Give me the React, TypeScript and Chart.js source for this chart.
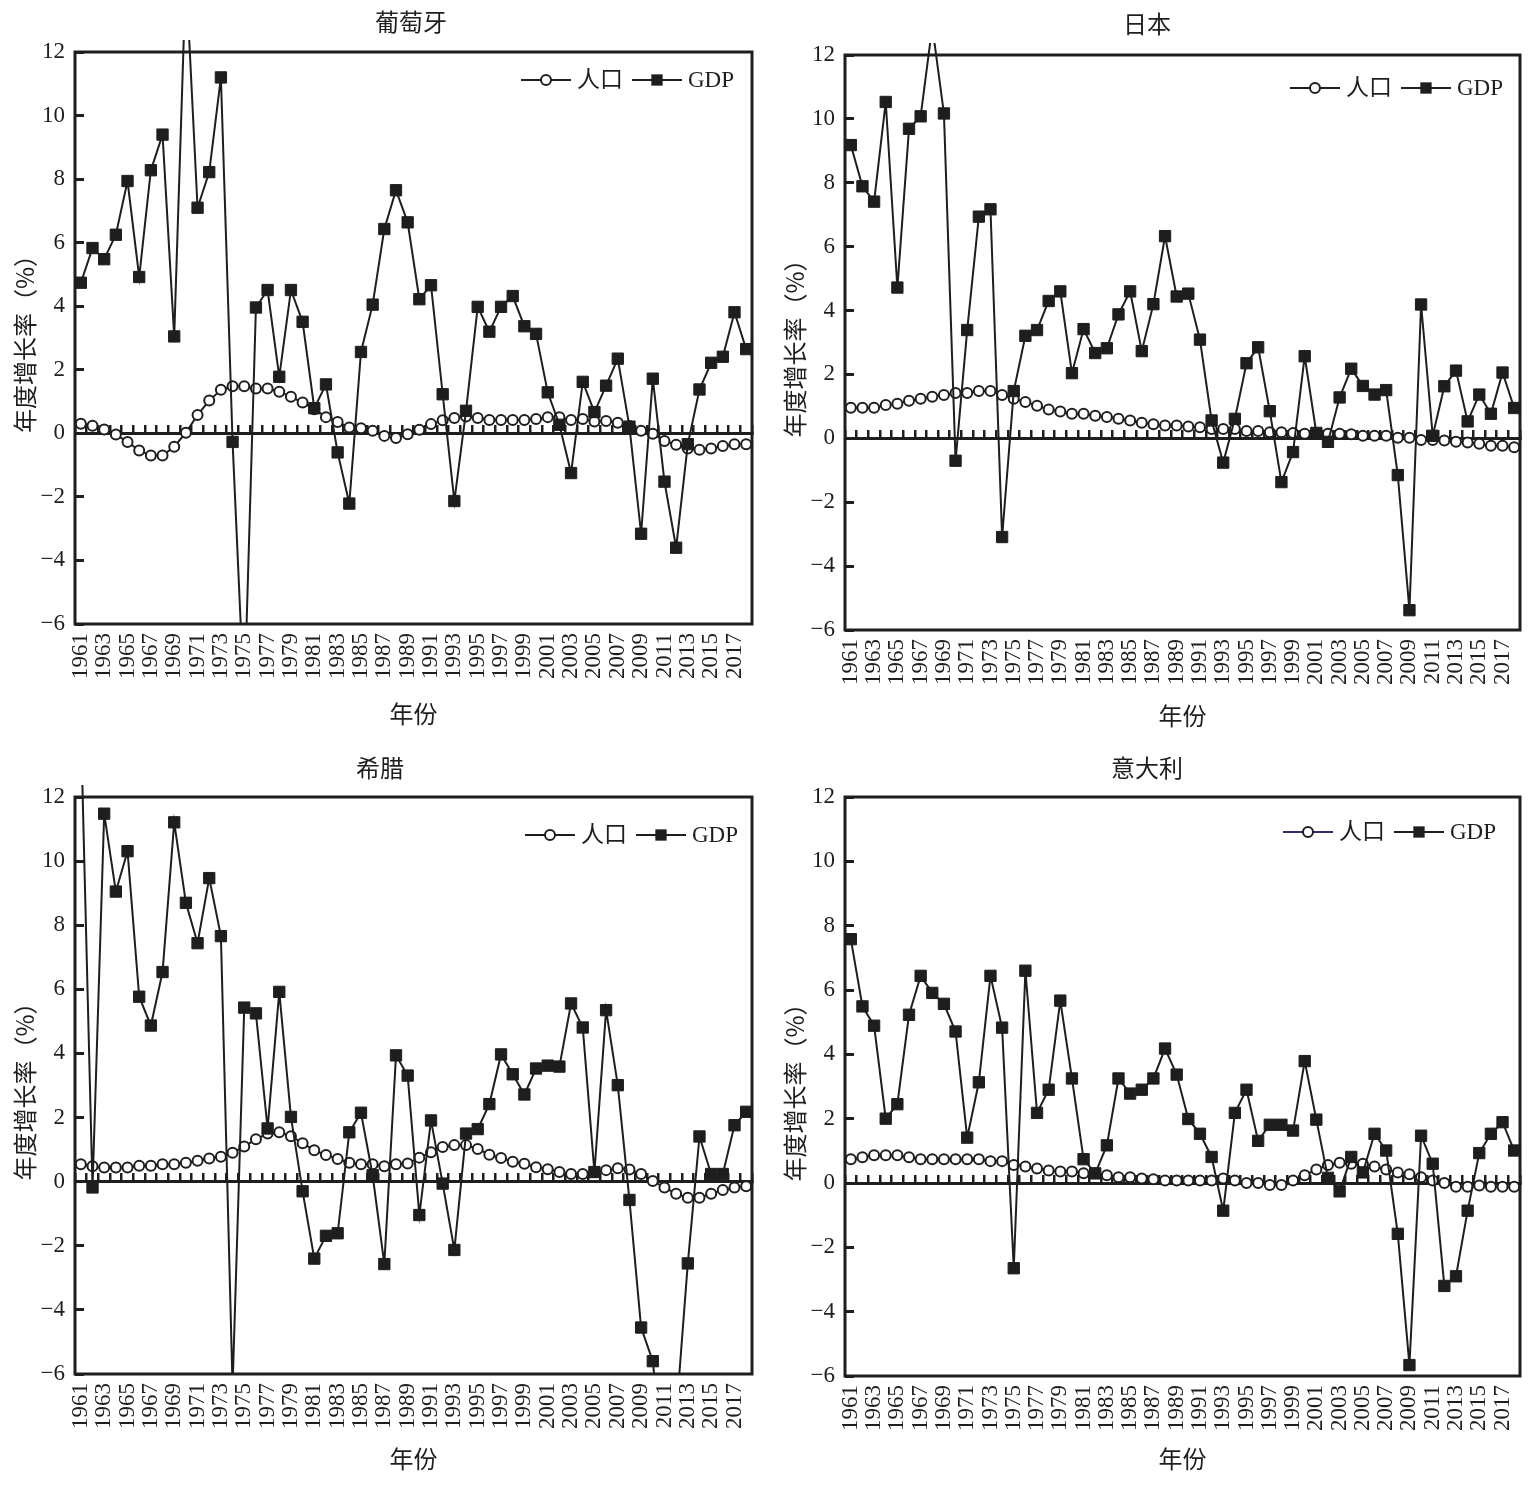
import React, { useEffect, useRef } from "react";
import { Chart, registerables } from "chart.js";

Chart.register(...registerables);

// ---------- data ----------
const YEARS = [
  "1961", "1962", "1963", "1964", "1965", "1966", "1967", "1968", "1969", "1970",
  "1971", "1972", "1973", "1974", "1975", "1976", "1977", "1978", "1979", "1980",
  "1981", "1982", "1983", "1984", "1985", "1986", "1987", "1988", "1989", "1990",
  "1991", "1992", "1993", "1994", "1995", "1996", "1997", "1998", "1999", "2000",
  "2001", "2002", "2003", "2004", "2005", "2006", "2007", "2008", "2009", "2010",
  "2011", "2012", "2013", "2014", "2015", "2016", "2017", "2018",
];

const Y_TICKS_MIN = -6;
const Y_TICKS_MAX = 12;
const Y_TICKS_STEP = 2;

const SERIES_LABELS = ["人口", "GDP"];
const PANEL_TITLES = ["葡萄牙", "日本", "希腊", "意大利"];
const X_TITLE = "年份";
const Y_TITLE = "年度增长率（%）";

const portugalPopulation = [
  0.30, 0.24, 0.12, -0.04, -0.27, -0.54, -0.70, -0.70, -0.42, 0.02,
  0.58, 1.03, 1.37, 1.48, 1.48, 1.41, 1.41, 1.31, 1.15, 0.97,
  0.76, 0.51, 0.36, 0.18, 0.16, 0.08, -0.08, -0.15, -0.03, 0.11,
  0.29, 0.41, 0.48, 0.53, 0.48, 0.42, 0.42, 0.42, 0.42, 0.45,
  0.51, 0.51, 0.42, 0.45, 0.37, 0.39, 0.33, 0.23, 0.08, -0.01,
  -0.24, -0.36, -0.48, -0.52, -0.48, -0.40, -0.34, -0.34,
];
const portugalGdp = [
  4.74, 5.83, 5.48, 6.25, 7.94, 4.92, 8.28, 9.40, 3.05, 14.5,
  7.10, 8.22, 11.2, -0.27, -8.5, 3.96, 4.51, 1.78, 4.51, 3.51,
  0.79, 1.54, -0.60, -2.21, 2.56, 4.05, 6.43, 7.65, 6.64, 4.22,
  4.66, 1.23, -2.13, 0.71, 3.98, 3.20, 3.98, 4.32, 3.37, 3.13,
  1.29, 0.27, -1.25, 1.62, 0.67, 1.50, 2.35, 0.21, -3.16, 1.72,
  -1.52, -3.60, -0.34, 1.38, 2.22, 2.41, 3.81, 2.65,
];

const japanPopulation = [
  0.96, 0.96, 0.96, 1.04, 1.08, 1.18, 1.24, 1.30, 1.36, 1.42,
  1.42, 1.48, 1.48, 1.36, 1.24, 1.14, 1.02, 0.90, 0.84, 0.77,
  0.77, 0.71, 0.67, 0.61, 0.56, 0.49, 0.44, 0.40, 0.40, 0.37,
  0.35, 0.29, 0.29, 0.29, 0.23, 0.23, 0.19, 0.19, 0.17, 0.14,
  0.14, 0.14, 0.14, 0.13, 0.08, 0.08, 0.08, 0.02, 0.02, -0.05,
  -0.05, -0.07, -0.11, -0.13, -0.17, -0.23, -0.23, -0.28,
];
const japanGdp = [
  9.18, 7.89, 7.41, 10.53, 4.72, 9.69, 10.08, 12.9, 10.17, -0.70,
  3.39, 6.94, 7.17, -3.09, 1.48, 3.21, 3.39, 4.30, 4.60, 2.04,
  3.42, 2.67, 2.82, 3.88, 4.60, 2.73, 4.20, 6.33, 4.44, 4.53,
  3.09, 0.56, -0.76, 0.61, 2.35, 2.85, 0.85, -1.37, -0.43, 2.57,
  0.17, -0.11, 1.28, 2.18, 1.64, 1.37, 1.51, -1.15, -5.38, 4.19,
  0.08, 1.63, 2.12, 0.53, 1.37, 0.77, 2.06, 0.95,
];

const greecePopulation = [
  0.54, 0.48, 0.44, 0.44, 0.44, 0.50, 0.50, 0.54, 0.54, 0.59,
  0.65, 0.72, 0.78, 0.90, 1.10, 1.32, 1.50, 1.54, 1.42, 1.20,
  0.98, 0.83, 0.71, 0.59, 0.54, 0.54, 0.48, 0.54, 0.57, 0.75,
  0.92, 1.08, 1.14, 1.14, 1.02, 0.84, 0.74, 0.62, 0.56, 0.45,
  0.39, 0.30, 0.24, 0.24, 0.30, 0.36, 0.42, 0.38, 0.24, 0.02,
  -0.18, -0.38, -0.50, -0.50, -0.38, -0.26, -0.18, -0.14,
];
const greeceGdp = [
  14.3, -0.18, 11.48, 9.05, 10.31, 5.77, 4.87, 6.54, 11.21, 8.70,
  7.44, 9.47, 7.66, -6.4, 5.43, 5.25, 1.66, 5.92, 2.02, -0.30,
  -2.40, -1.69, -1.61, 1.54, 2.15, 0.20, -2.57, 3.94, 3.31, -1.04,
  1.91, -0.06, -2.13, 1.50, 1.64, 2.42, 3.97, 3.35, 2.72, 3.53,
  3.62, 3.59, 5.56, 4.81, 0.30, 5.35, 3.01, -0.57, -4.55, -5.60,
  -9.1, -7.3, -2.55, 1.41, 0.24, 0.24, 1.76, 2.18,
];

const italyPopulation = [
  0.74, 0.80, 0.86, 0.86, 0.86, 0.80, 0.74, 0.74, 0.74, 0.74,
  0.74, 0.74, 0.68, 0.68, 0.56, 0.51, 0.45, 0.39, 0.36, 0.36,
  0.30, 0.30, 0.24, 0.18, 0.18, 0.14, 0.12, 0.08, 0.08, 0.08,
  0.08, 0.08, 0.14, 0.08, 0.00, 0.00, -0.06, -0.06, 0.08, 0.24,
  0.42, 0.56, 0.63, 0.60, 0.60, 0.51, 0.42, 0.33, 0.27, 0.18,
  0.08, 0.00, -0.12, -0.12, -0.08, -0.12, -0.12, -0.12,
];
const italyGdp = [
  7.58, 5.49, 4.89, 2.00, 2.45, 5.23, 6.44, 5.91, 5.57, 4.71,
  1.41, 3.13, 6.44, 4.83, -2.65, 6.60, 2.18, 2.90, 5.67, 3.25,
  0.74, 0.30, 1.17, 3.25, 2.78, 2.90, 3.25, 4.18, 3.37, 1.99,
  1.53, 0.81, -0.86, 2.18, 2.90, 1.31, 1.81, 1.81, 1.63, 3.79,
  1.97, 0.16, -0.26, 0.81, 0.33, 1.53, 1.01, -1.58, -5.66, 1.47,
  0.60, -3.20, -2.90, -0.86, 0.93, 1.53, 1.89, 1.01,
];

// ---------- style ----------
const INK = "#1e1e1e";
const SERIF = '"Liberation Serif", "Times New Roman", serif';
const CJK = '"Noto Sans CJK SC", "Liberation Serif", sans-serif';
const MIXED = '"Liberation Serif", "Noto Sans CJK SC", serif';

type Area = { l: number; r: number; t: number; b: number };
type PanelCfg = {
  title: string;
  pop: number[];
  gdp: number[];
  left: number;
  top: number;
  width: number;
  height: number;
  area: Area;
  titleX: number;
  titleY: number;
  yTitleX: number;
  xTitleY: number;
  legendRight: number;
  legendY: number;
  legendLineColors?: (string | null)[];
};

const PANELS: PanelCfg[] = [
  {
    title: PANEL_TITLES[0], pop: portugalPopulation, gdp: portugalGdp,
    left: 0, top: 0, width: 765, height: 745,
    area: { l: 75, r: 752, t: 52, b: 624 },
    titleX: 411, titleY: 22, yTitleX: 25, xTitleY: 714, legendRight: 18, legendY: 80,
  },
  {
    title: PANEL_TITLES[1], pop: japanPopulation, gdp: japanGdp,
    left: 765, top: 0, width: 764, height: 745,
    area: { l: 80, r: 757, t: 55, b: 630 },
    titleX: 382, titleY: 24, yTitleX: 30, xTitleY: 716, legendRight: 17, legendY: 88,
  },
  {
    title: PANEL_TITLES[2], pop: greecePopulation, gdp: greeceGdp,
    left: 0, top: 745, width: 765, height: 763,
    area: { l: 75, r: 752, t: 52, b: 629 },
    titleX: 380, titleY: 23, yTitleX: 25, xTitleY: 714, legendRight: 14, legendY: 90,
  },
  {
    title: PANEL_TITLES[3], pop: italyPopulation, gdp: italyGdp,
    left: 765, top: 745, width: 764, height: 763,
    area: { l: 80, r: 757, t: 52, b: 631 },
    titleX: 382, titleY: 23, yTitleX: 30, xTitleY: 714, legendRight: 24, legendY: 87,
    legendLineColors: ["#2c2f6b", null],
  },
];

// ---------- plugin: frame, panel title, legend ----------
const decorPlugin = {
  id: "panelDecor",
  beforeDatasetsDraw(chart: any) {
    const { ctx, chartArea: a } = chart;
    ctx.save();
    ctx.strokeStyle = INK;
    ctx.lineWidth = 3;
    ctx.strokeRect(a.left, a.top, a.right - a.left, a.bottom - a.top);
    ctx.restore();
  },
  afterDraw(chart: any, _args: any, opts: any) {
    const { ctx, chartArea: a } = chart;
    ctx.save();
    // title
    ctx.fillStyle = INK;
    ctx.font = `24px ${CJK}`;
    ctx.textAlign = "center";
    ctx.textBaseline = "middle";
    ctx.fillText(opts.title, opts.titleX, opts.titleY);

    // legend
    ctx.font = `23px ${MIXED}`;
    const datasets = chart.data.datasets;
    const seg = 50;
    const gapText = 6;
    const gapItem = 9;
    const widths = datasets.map(
      (d: any) => seg + gapText + ctx.measureText(d.label).width
    );
    const total =
      widths.reduce((s: number, w: number) => s + w, 0) +
      gapItem * (datasets.length - 1);
    let x = a.right - opts.legendRight - total;
    const y = opts.legendY;
    datasets.forEach((d: any, i: number) => {
      const lc =
        (opts.legendLineColors && opts.legendLineColors[i]) || d.borderColor;
      ctx.strokeStyle = lc;
      ctx.lineWidth = 2;
      ctx.beginPath();
      ctx.moveTo(x, y);
      ctx.lineTo(x + seg, y);
      ctx.stroke();
      const cx = x + seg / 2;
      if (d.pointStyle === "rect") {
        const s = Math.SQRT1_2 * d.pointRadius;
        ctx.fillStyle = d.pointBackgroundColor;
        ctx.fillRect(cx - s, y - s, 2 * s, 2 * s);
      } else {
        ctx.beginPath();
        ctx.arc(cx, y, d.pointRadius, 0, Math.PI * 2);
        ctx.fillStyle = d.pointBackgroundColor;
        ctx.fill();
        ctx.lineWidth = d.pointBorderWidth;
        ctx.strokeStyle = d.pointBorderColor;
        ctx.stroke();
      }
      ctx.fillStyle = INK;
      ctx.textAlign = "left";
      ctx.textBaseline = "middle";
      ctx.fillText(d.label, x + seg + gapText, y + 1);
      x += widths[i] + gapItem;
    });
    ctx.restore();
  },
};

function buildConfig(cfg: PanelCfg): any {
  const a = cfg.area;
  const W = cfg.width;
  const H = cfg.height;
  const clip = { left: 8, top: 12, right: 8, bottom: 0 };
  const titleHalf = (24 * 1.2) / 2;
  return {
    type: "line",
    data: {
      labels: YEARS,
      datasets: [
        {
          label: SERIES_LABELS[0],
          data: cfg.pop,
          borderColor: INK,
          borderWidth: 2,
          pointStyle: "circle",
          pointRadius: 5,
          pointBorderWidth: 2,
          pointBackgroundColor: "#ffffff",
          pointBorderColor: INK,
          tension: 0,
          clip,
          order: 1,
        },
        {
          label: SERIES_LABELS[1],
          data: cfg.gdp,
          borderColor: INK,
          borderWidth: 2,
          pointStyle: "rect",
          pointRadius: 8,
          pointBorderWidth: 1,
          pointBackgroundColor: INK,
          pointBorderColor: INK,
          tension: 0,
          clip,
          order: 0,
        },
      ],
    },
    options: {
      responsive: false,
      maintainAspectRatio: false,
      animation: false,
      events: [],
      layout: { padding: { left: 0, top: a.t, right: W - a.r, bottom: 0 } },
      plugins: {
        legend: { display: false },
        tooltip: { enabled: false },
        title: { display: false },
        panelDecor: {
          title: cfg.title,
          titleX: cfg.titleX,
          titleY: cfg.titleY,
          legendRight: cfg.legendRight,
          legendY: cfg.legendY,
          legendLineColors: cfg.legendLineColors,
        },
      },
      scales: {
        x: {
          type: "category",
          offset: true,
          grid: { display: false, drawTicks: false },
          border: { display: false },
          ticks: {
            autoSkip: false,
            minRotation: 90,
            maxRotation: 90,
            padding: 9,
            color: INK,
            font: { family: SERIF, size: 23 },
            callback: (_v: any, i: number) => (i % 2 === 0 ? YEARS[i] : ""),
          },
          title: {
            display: true,
            text: X_TITLE,
            color: INK,
            font: { family: CJK, size: 24 },
            padding: { top: 0, bottom: H - cfg.xTitleY - titleHalf },
          },
          afterFit: (s: any) => {
            s.height = H - a.b;
            s.paddingLeft = 0;
            s.paddingRight = 0;
          },
        },
        x2: {
          type: "category",
          position: { y: 0 },
          offset: true,
          ticks: { display: false },
          grid: {
            offset: true,
            drawOnChartArea: false,
            drawTicks: true,
            tickLength: -10,
            tickWidth: 2.5,
            tickColor: INK,
            color: INK,
            lineWidth: 2.5,
          },
          border: { display: true, color: INK, width: 3 },
          afterFit: (s: any) => {
            s.paddingLeft = 0;
            s.paddingRight = 0;
          },
        },
        y: {
          type: "linear",
          min: Y_TICKS_MIN,
          max: Y_TICKS_MAX,
          ticks: {
            stepSize: Y_TICKS_STEP,
            padding: 19,
            color: INK,
            font: { family: SERIF, size: 23 },
            callback: (v: any) => String(v).replace("-", "\u2212"),
          },
          grid: {
            drawOnChartArea: false,
            drawTicks: true,
            tickLength: -9,
            tickWidth: 3,
            tickColor: INK,
          },
          border: { display: false },
          title: {
            display: true,
            text: Y_TITLE,
            color: INK,
            font: { family: CJK, size: 24 },
            padding: { top: cfg.yTitleX - titleHalf, bottom: 0 },
          },
          afterFit: (s: any) => {
            s.width = a.l;
            s.paddingTop = 0;
            s.paddingBottom = 0;
          },
        },
      },
    },
    plugins: [decorPlugin],
  };
}

function Panel({ cfg }: { cfg: PanelCfg }) {
  const ref = useRef<HTMLCanvasElement>(null);
  useEffect(() => {
    if (!ref.current) return;
    const chart = new Chart(ref.current, buildConfig(cfg));
    return () => chart.destroy();
  }, [cfg]);
  return (
    <canvas
      ref={ref}
      width={cfg.width}
      height={cfg.height}
      style={{
        position: "absolute",
        left: cfg.left,
        top: cfg.top,
        width: cfg.width,
        height: cfg.height,
      }}
    />
  );
}

export default function App() {
  useEffect(() => {
    document.body.style.margin = "0";
    document.body.style.overflow = "hidden";
  }, []);
  return (
    <div
      style={{
        position: "absolute",
        left: 0,
        top: 0,
        width: 1529,
        height: 1508,
        background: "#ffffff",
        overflow: "hidden",
      }}
    >
      {PANELS.map((p, i) => (
        <Panel key={i} cfg={p} />
      ))}
    </div>
  );
}
